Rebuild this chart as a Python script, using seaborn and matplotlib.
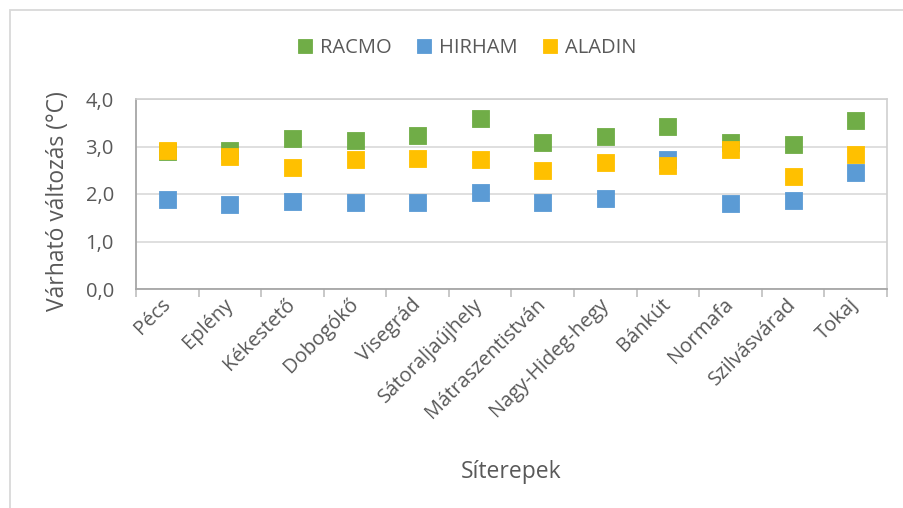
import matplotlib
matplotlib.use("Agg")
import matplotlib.pyplot as plt
from matplotlib.patches import Rectangle
from matplotlib.ticker import FixedLocator, FuncFormatter
import seaborn as sns
import pandas as pd
import numpy as np

sites = ["Pécs", "Eplény", "Kékestető", "Dobogókő", "Visegrád", "Sátoraljaújhely",
         "Mátraszentistván", "Nagy-Hideg-hegy", "Bánkút", "Normafa", "Szilvásvárad", "Tokaj"]
racmo = [2.89, 2.91, 3.16, 3.13, 3.24, 3.58, 3.09, 3.21, 3.42, 3.08, 3.05, 3.55]
hirham = [1.89, 1.78, 1.84, 1.83, 1.83, 2.03, 1.83, 1.90, 2.73, 1.79, 1.86, 2.46]
aladin = [2.92, 2.79, 2.55, 2.73, 2.74, 2.72, 2.49, 2.66, 2.61, 2.94, 2.36, 2.84]
series_names = ["RACMO", "HIRHAM", "ALADIN"]
series_colors = ["#70AD47", "#5B9BD5", "#FFC000"]
y_ticks = [0.0, 1.0, 2.0, 3.0, 4.0]
x_label = "Síterepek"
y_label = "Várható változás (°C)"

rows = []
for name, vals in zip(series_names, [racmo, hirham, aladin]):
    for i, (s, v) in enumerate(zip(sites, vals)):
        rows.append({"pos": i, "site": s, "value": v, "model": name})
df = pd.DataFrame(rows)

sns.set_theme(style="white")
plt.rcParams["font.family"] = ["Open Sans", "DejaVu Sans"]
text_color = "#595959"

fig = plt.figure(figsize=(9.04, 5.08), dpi=100)
ax = fig.add_axes([136 / 904, 1 - 289 / 508, (887 - 136) / 904, (289 - 99) / 508])

sns.scatterplot(data=df, x="pos", y="value", hue="model", hue_order=series_names,
                palette=dict(zip(series_names, series_colors)), marker="s", s=150,
                linewidth=0.6, edgecolor="face", ax=ax, zorder=3, legend=True)

ax.set_xlim(-0.5, len(sites) - 0.5)
ax.set_ylim(0, 4.0)
ax.yaxis.set_major_locator(FixedLocator(y_ticks))
ax.yaxis.set_major_formatter(FuncFormatter(lambda v, p: f"{v:.1f}".replace(".", ",")))
ax.grid(axis="y", color="#D9D9D9", linewidth=1.2, zorder=0)
ax.set_axisbelow(True)

# ticks at category boundaries, labels at centers
ax.xaxis.set_major_locator(FixedLocator(np.arange(-0.5, len(sites), 1.0)))
ax.xaxis.set_major_formatter(FuncFormatter(lambda v, p: ""))
ax.xaxis.set_minor_locator(FixedLocator(np.arange(len(sites))))
ax.set_xticks(np.arange(len(sites)), labels=sites, minor=True)
ax.tick_params(axis="x", which="major", length=5.5, width=1.2, color="#BFBFBF", direction="out", bottom=True)
ax.tick_params(axis="x", which="minor", length=0, pad=9, labelsize=14.5, labelcolor=text_color)
for lab in ax.get_xticklabels(minor=True):
    lab.set_rotation(45)
    lab.set_ha("right")
    lab.set_va("center")
    lab.set_rotation_mode("anchor")
ax.tick_params(axis="y", length=0, pad=16, labelsize=14.5, labelcolor=text_color)

for side in ["left", "bottom"]:
    ax.spines[side].set_color("#A6A6A6")
    ax.spines[side].set_linewidth(1.3)
for side in ["top", "right"]:
    ax.spines[side].set_color("#D0D0D0")
    ax.spines[side].set_linewidth(1.2)

ax.set_xlabel(x_label, fontsize=16.5, color=text_color)
ax.xaxis.set_label_coords(0.5, (289 - 472) / 190)
ax.xaxis.label.set_va("center")
ax.set_ylabel(y_label, fontsize=16.5, color=text_color)
ax.yaxis.set_label_coords((58 - 136) / 751, (289 - 201) / 190)
ax.yaxis.label.set_va("center")

sns.move_legend(ax, "center", bbox_to_anchor=(467 / 904, 1 - 48 / 508),
                bbox_transform=fig.transFigure, ncol=3, frameon=False, title=None,
                fontsize=14.5, markerscale=0.8, handlelength=0.8, handletextpad=0.35,
                columnspacing=1.2, labelcolor=text_color)

fig.patches.append(Rectangle((10 / 904, -0.2), 1.2, 1.2 - 10 / 508, transform=fig.transFigure,
                             fill=False, edgecolor="#D9D9D9", linewidth=1.3))

fig.savefig("out.png", dpi=100, facecolor="white")
